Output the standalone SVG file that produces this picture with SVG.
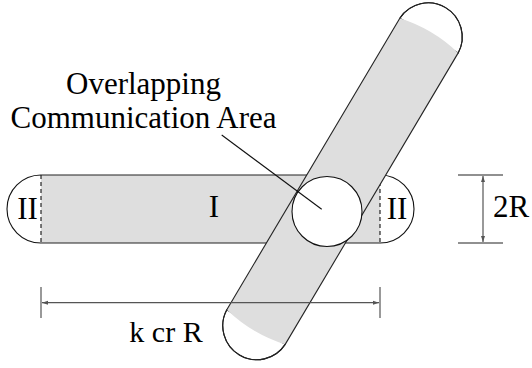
<svg xmlns="http://www.w3.org/2000/svg" width="532" height="368" viewBox="0 0 532 368">
<style>
.edge{fill:none;stroke:#222;stroke-width:1.1}
.cap{fill:#fff;stroke:#111;stroke-width:1.1}
.body{fill:#dedede;stroke:none}
.dash{stroke:#111;stroke-width:1.1;stroke-dasharray:4 3}
.dim{stroke:#555;stroke-width:1.2;fill:none}
</style>
<defs>
<marker id="ah" viewBox="0 0 6 6" refX="6" refY="3" markerWidth="6" markerHeight="6" orient="auto-start-reverse" markerUnits="userSpaceOnUse">
<path d="M0,1 L6,3 L0,5 Z" fill="#555"/>
</marker>
</defs>
<rect width="532" height="368" fill="#fff"/>

<g id="horizontal-strip">
<rect class="body" x="41" y="175" width="339" height="68"/>
<path class="cap" d="M41,175 A34,34 0 0 0 41,243"/>
<path class="cap" d="M380,175 A34,34 0 0 1 380,243"/>
<line class="edge" x1="41" y1="175" x2="380" y2="175"/>
<line class="edge" x1="41" y1="243" x2="380" y2="243"/>
<line class="dash" x1="41" y1="175" x2="41" y2="243"/>
<line class="dash" x1="380" y1="175" x2="380" y2="243"/>
<g font-family="Liberation Serif, Times New Roman, DejaVu Serif, serif" font-size="31" fill="#000" text-anchor="middle">
<text x="27.5" y="219">II</text>
<text x="214" y="217">I</text>
<text x="397" y="219">II</text>
</g>
</g>

<g id="diagonal-strip">
<path class="cap" d="M399.8,18.2 A34,34 0 0 1 458.2,52.9 Z" stroke="none"/>
<path class="cap" d="M285.2,344.4 A34,34 0 0 1 226.8,309.7 Z" stroke="none"/>
<path class="body" d="M399.8,18.2 Q433,28.6 458.2,52.9 L285.2,344.4 Q251.9,333.9 226.8,309.7 Z"/>
<path class="edge" d="M399.8,18.2 A34,34 0 0 1 458.2,52.9"/>
<path class="edge" d="M285.2,344.4 A34,34 0 0 1 226.8,309.7"/>
<line class="edge" x1="399.8" y1="18.2" x2="226.8" y2="309.7"/>
<line class="edge" x1="458.2" y1="52.9" x2="285.2" y2="344.4"/>
</g>

<g id="overlap-circle">
<circle cx="327" cy="211.5" r="35" fill="#fff" stroke="#111" stroke-width="1.1"/>
</g>

<g id="label-overlap" font-family="Liberation Serif, Times New Roman, DejaVu Serif, serif" font-size="31" fill="#000" text-anchor="middle">
<text x="143.5" y="93.5">Overlapping</text>
<text x="143.5" y="128">Communication Area</text>
</g>

<g id="dim-2R">
<line class="edge" x1="458" y1="175" x2="503" y2="175"/>
<line class="edge" x1="458" y1="243" x2="503" y2="243"/>
<line class="dim" x1="483" y1="176" x2="483" y2="242" marker-start="url(#ah)" marker-end="url(#ah)"/>
<text x="493" y="217" font-family="Liberation Serif, Times New Roman, DejaVu Serif, serif" font-size="31" fill="#000">2R</text>
</g>

<g id="dim-kcrR">
<line class="dim" x1="41" y1="287" x2="41" y2="318"/>
<line class="dim" x1="380" y1="287" x2="380" y2="318"/>
<line class="dim" x1="42" y1="302.7" x2="379" y2="302.7" marker-start="url(#ah)" marker-end="url(#ah)"/>
<text x="166" y="342" text-anchor="middle" font-family="Liberation Serif, Times New Roman, DejaVu Serif, serif" font-size="30" fill="#000">k cr R</text>
</g>

<g id="connectors">
<line x1="221.7" y1="135" x2="321.7" y2="209.3" stroke="#111" stroke-width="1.1"/>
</g>
</svg>
